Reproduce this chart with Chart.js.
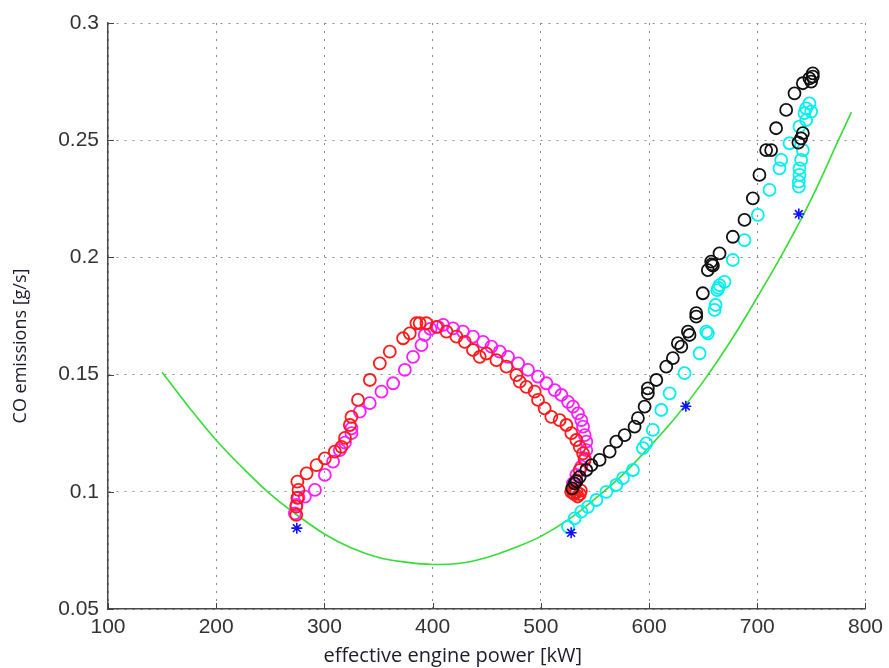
<!DOCTYPE html>
<html>
<head>
<meta charset="utf-8">
<script src="https://cdn.jsdelivr.net/npm/chart.js@4.4.1/dist/chart.umd.min.js"></script>
<style>
    html, body { margin: 0; padding: 0; background: #fff; }
    #wrap { width: 889px; height: 668px; }
</style>
</head>
<body>
<div id="wrap"><canvas id="coChart" width="889" height="668"></canvas></div>
<script>
// axis ticks
const xTickValues = [100, 200, 300, 400, 500, 600, 700, 800];
const xTickLabels = ['100', '200', '300', '400', '500', '600', '700', '800'];
const yTickValues = [0.05, 0.1, 0.15, 0.2, 0.25, 0.3];
const yTickLabels = ['0.05', '0.1', '0.15', '0.2', '0.25', '0.3'];

const xTitle = 'effective engine power [kW]';
const yTitle = 'CO emissions [g/s]';

// red circles
const redX = [274, 274, 275, 276, 275, 283.5, 292.7, 300.4, 309.6, 315.8, 319, 323.5, 325, 331, 342, 351.2, 360.4, 372.7, 378.9, 385, 388,
    394.3, 403.5, 412.8, 422, 429.7, 437.3, 443.5, 449.7, 458.9, 468.2, 477.4, 480.5, 486.6, 494.3, 497.4, 503.5, 509.7, 517.4, 523.6,
    528.2, 532.8, 535.9, 539, 540.5, 535.9, 532.8, 529.7, 531, 533, 536, 528, 534, 530, 537];
const redY = [0.0902, 0.0937, 0.0974, 0.1008, 0.1043, 0.1079, 0.1114, 0.1143, 0.1171, 0.1192, 0.123, 0.1285, 0.132, 0.1392, 0.1477, 0.1548, 0.1598, 0.1655, 0.1676, 0.1719, 0.172,
    0.1719, 0.1704, 0.1683, 0.1662, 0.164, 0.1605, 0.1576, 0.159, 0.1562, 0.1534, 0.1498, 0.147, 0.1448, 0.1427, 0.1392, 0.1356, 0.132, 0.1306, 0.1285,
    0.125, 0.1221, 0.1192, 0.1164, 0.1136, 0.1093, 0.105, 0.1008, 0.099, 0.1, 0.099, 0.1, 0.098, 0.0995, 0.1005];

// magenta circles
const magentaX = [272.7, 274.2, 276, 281.9, 291.2, 300.4, 308, 314.2, 319, 325, 325, 332.7, 341.9, 352.7, 363.5, 374.3, 381.9, 389.7, 392.7, 398, 405,
    409.7, 418.9, 428.1, 437.3, 446.6, 454.3, 462, 469.7, 479, 488.1, 497.4, 505.1, 512.8, 519, 525.1, 529.7, 534.3, 537.4, 539,
    540.5, 542, 542, 540.5, 537.4, 532.8, 529.7];
const magentaY = [0.0908, 0.0944, 0.0975, 0.0979, 0.1008, 0.1072, 0.1129, 0.1178, 0.121, 0.125, 0.1271, 0.1342, 0.1378, 0.1427, 0.1463, 0.152, 0.1576, 0.1626, 0.1669, 0.1695, 0.1704,
    0.1712, 0.1697, 0.1683, 0.1662, 0.164, 0.1619, 0.1598, 0.1576, 0.1548, 0.152, 0.1491, 0.1463, 0.1434, 0.1413, 0.1384, 0.1363, 0.1335, 0.1306, 0.1278,
    0.1242, 0.1214, 0.1178, 0.1143, 0.1107, 0.1072, 0.1036];

// black circles
const blackX = [529, 531.2, 533, 535.9, 542, 546.7, 554.3, 563.6, 569.7, 577.4, 586.6, 589.7, 595.9, 598.9, 598.9, 606.7, 615.9, 622, 626.6, 629.8,
    635.9, 637.4, 643.6, 643.6, 649.7, 654.3, 657.4, 658, 659, 665.1, 677.4, 688.2, 695.9, 702, 708.2, 712.8, 717.4, 726.7, 734.4, 742.1,
    748.2, 751.3, 751.3, 749.8, 740.5, 742.1, 738];
const blackY = [0.1015, 0.1036, 0.1045, 0.1064, 0.1093, 0.1114, 0.1136, 0.1171, 0.1214, 0.1242, 0.1278, 0.1314, 0.1363, 0.142, 0.1441, 0.1477, 0.1534, 0.157, 0.1634, 0.1619,
    0.1683, 0.1669, 0.1747, 0.1762, 0.1847, 0.1946, 0.1982, 0.197, 0.1965, 0.2017, 0.2088, 0.216, 0.2252, 0.2352, 0.2458, 0.2458, 0.2551, 0.2629, 0.27, 0.2743,
    0.2764, 0.2785, 0.2771, 0.275, 0.2508, 0.253, 0.249];

// cyan circles
const cyanX = [525.1, 531.2, 537.4, 543.5, 551.3, 560.5, 569.7, 575.9, 585.1, 594.3, 597.4, 603.5, 611.3, 619, 632.8, 646.7, 652.9, 654.3, 660.5, 661.5,
    663, 664, 665.1, 669.7, 677.4, 688.2, 700.5, 711.3, 720.5, 722.1, 729.8, 739, 743.6, 748.2, 745.2, 749.8, 745.2, 742.1, 740.5, 739,
    739, 738.4, 738.4];
const cyanY = [0.0851, 0.0887, 0.0915, 0.0936, 0.0965, 0.1, 0.1029, 0.1058, 0.1093, 0.1186, 0.1207, 0.1264, 0.1349, 0.142, 0.1506, 0.1591, 0.1683, 0.1676, 0.1776, 0.1797,
    0.186, 0.187, 0.1882, 0.1896, 0.1989, 0.2074, 0.2181, 0.2288, 0.238, 0.2416, 0.2487, 0.2558, 0.2615, 0.2657, 0.2636, 0.2622, 0.2586, 0.2458, 0.2416, 0.238,
    0.2352, 0.2323, 0.2302];

// blue stars
const starX = [274.5, 528, 634, 738.4];
const starY = [0.0845, 0.0825, 0.1365, 0.2185];

// green curve
const greenX = [150, 175, 200, 225, 250, 275, 300, 325, 350, 375, 400, 425, 450, 475, 500, 525, 550, 575, 600, 625, 650, 675, 700, 725, 750, 775, 787];
const greenY = [0.151, 0.136, 0.122, 0.110, 0.099, 0.090, 0.082, 0.076, 0.072, 0.070, 0.069, 0.0695, 0.072, 0.076, 0.081, 0.088, 0.097, 0.107, 0.119, 0.132, 0.147, 0.164, 0.183, 0.203, 0.225, 0.250, 0.262];

function toPoints(xs, ys) {
    return xs.map((x, i) => ({ x: x, y: ys[i] }));
}

function circleSet(label, xs, ys, color) {
    return {
        label: label,
        data: toPoints(xs, ys),
        showLine: false,
        pointStyle: 'circle',
        pointRadius: 6,
        pointBorderWidth: 1.8,
        borderColor: color,
        backgroundColor: 'rgba(0,0,0,0)'
    };
}

// Matlab-like inward tick marks and axis titles
const axisExtras = {
    id: 'axisExtras',
    afterDraw(chart) {
        const { ctx, chartArea, scales } = chart;
        ctx.save();
        ctx.strokeStyle = '#444';
        ctx.lineWidth = 1;
        ctx.beginPath();
        xTickValues.forEach(v => {
            const px = Math.round(scales.x.getPixelForValue(v)) + 0.5;
            ctx.moveTo(px, chartArea.bottom);
            ctx.lineTo(px, chartArea.bottom - 6);
        });
        yTickValues.forEach(v => {
            const py = Math.round(scales.y.getPixelForValue(v)) + 0.5;
            ctx.moveTo(chartArea.left, py);
            ctx.lineTo(chartArea.left + 6, py);
        });
        ctx.stroke();

        ctx.fillStyle = '#1c1c2a';
        ctx.textAlign = 'center';
        ctx.textBaseline = 'middle';
        ctx.font = '20px "Open Sans", sans-serif';
        const cx = (chartArea.left + chartArea.right) / 2 - 34;
        ctx.fillText(xTitle, cx, chartArea.bottom + 47);
        ctx.font = '18px "Open Sans", sans-serif';
        const cy = (chartArea.top + chartArea.bottom) / 2 + 30;
        ctx.translate(21, cy);
        ctx.rotate(-Math.PI / 2);
        ctx.fillText(yTitle, 0, 0);
        ctx.restore();
    }
};

const gridStyle = {
    color: '#8a8a8a',
    lineWidth: 1,
    drawTicks: false
};
const borderStyle = {
    display: true,
    color: '#4a4a4a',
    width: 1.5,
    dash: [2, 6]
};
const tickFont = { family: '"Liberation Sans", Arial, sans-serif', size: 21 };

const ctx = document.getElementById('coChart').getContext('2d');
new Chart(ctx, {
    type: 'scatter',
    data: {
        datasets: [
            {
                label: 'stars',
                data: toPoints(starX, starY),
                showLine: false,
                pointStyle: 'star',
                pointRadius: 5.5,
                pointBorderWidth: 1.6,
                borderColor: '#1010ff',
                backgroundColor: '#1010ff'
            },
            circleSet('black', blackX, blackY, '#111111'),
            circleSet('cyan', cyanX, cyanY, '#00f0f0'),
            circleSet('red', redX, redY, '#ff1a1a'),
            circleSet('magenta', magentaX, magentaY, '#ff1aff'),
            {
                label: 'fit',
                data: toPoints(greenX, greenY),
                showLine: true,
                borderColor: '#33dd33',
                borderWidth: 1.6,
                pointRadius: 0,
                tension: 0.4,
                fill: false
            }
        ]
    },
    options: {
        responsive: false,
        animation: false,
        layout: {
            padding: { top: 23, right: 23, left: 0, bottom: 0 }
        },
        plugins: {
            legend: { display: false },
            tooltip: { enabled: false },
            title: { display: false }
        },
        scales: {
            x: {
                type: 'linear',
                min: 100,
                max: 800,
                afterBuildTicks: s => { s.ticks = xTickValues.map(v => ({ value: v })); },
                afterFit: s => { s.height = 59; },
                ticks: {
                    callback: v => xTickLabels[xTickValues.indexOf(v)],
                    font: tickFont,
                    color: '#333333',
                    padding: 6,
                    maxRotation: 0
                },
                grid: gridStyle,
                border: borderStyle
            },
            y: {
                type: 'linear',
                min: 0.05,
                max: 0.3,
                afterBuildTicks: s => { s.ticks = yTickValues.map(v => ({ value: v })); },
                afterFit: s => { s.width = 108; },
                ticks: {
                    callback: (v, i) => yTickLabels[i],
                    font: tickFont,
                    color: '#333333',
                    padding: 9
                },
                grid: gridStyle,
                border: borderStyle
            }
        }
    },
    plugins: [axisExtras]
});
</script>
</body>
</html>
